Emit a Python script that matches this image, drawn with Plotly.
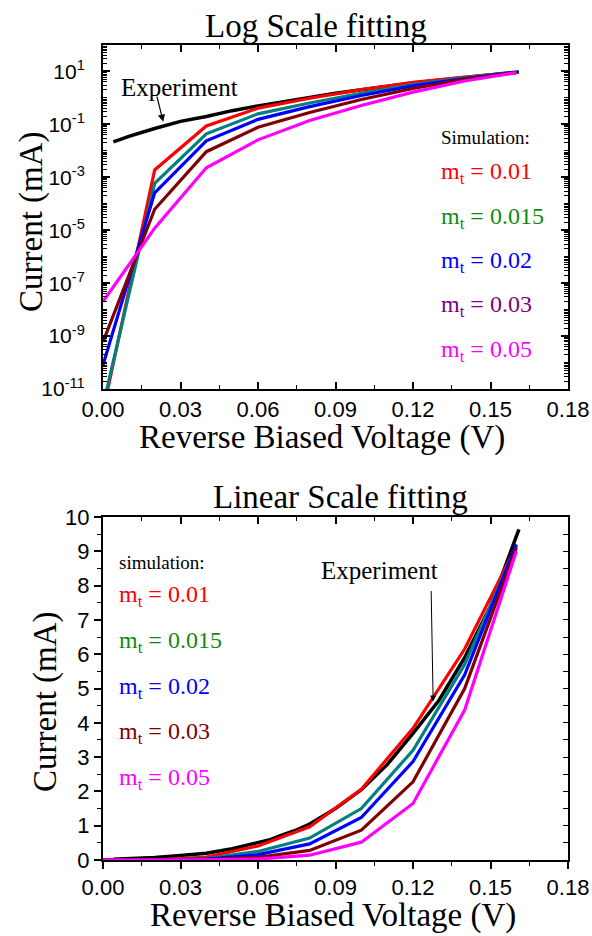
import plotly.graph_objects as go

# ---- data -------------------------------------------------------------
voltage_sim = [0.0, 0.02, 0.04, 0.06, 0.08, 0.10, 0.12, 0.14, 0.16]

current_mt_0p01 = [1.4e-12, 1.9e-3, 0.087, 0.41, 0.97, 2.06, 3.84, 6.15, 9.15]
current_mt_0p015 = [2.3e-12, 5.9e-4, 0.044, 0.25, 0.64, 1.50, 3.20, 5.70, 9.15]
current_mt_0p02 = [8.0e-11, 2.6e-4, 0.024, 0.155, 0.47, 1.24, 2.87, 5.40, 9.20]
current_mt_0p03 = [6.0e-10, 6.2e-5, 9.3e-3, 0.078, 0.28, 0.87, 2.28, 5.00, 9.10]
current_mt_0p05 = [2.0e-8, 1.2e-5, 2.3e-3, 0.026, 0.14, 0.52, 1.65, 4.37, 9.00]

voltage_exp = [0.004, 0.01, 0.02, 0.03, 0.04, 0.05, 0.06, 0.065, 0.07, 0.075,
               0.08, 0.09, 0.10, 0.11, 0.12, 0.13, 0.14, 0.15, 0.161]
current_exp = [0.022, 0.035, 0.07, 0.13, 0.20, 0.33, 0.50, 0.60, 0.75, 0.88,
               1.05, 1.50, 2.05, 2.78, 3.69, 4.65, 5.90, 7.40, 9.64]

mt_labels = ["0.01", "0.015", "0.02", "0.03", "0.05"]
x_ticks = [0.0, 0.03, 0.06, 0.09, 0.12, 0.15, 0.18]
log_tick_exponents = [-11, -9, -7, -5, -3, -1, 1]
lin_ticks = [0, 1, 2, 3, 4, 5, 6, 7, 8, 9, 10]

sim_currents = [current_mt_0p01, current_mt_0p015, current_mt_0p02,
                current_mt_0p03, current_mt_0p05]

# ---- styling ----------------------------------------------------------
W, H = 592, 936
line_colors = ["#ff0000", "#008080", "#0000ff", "#800000", "#ff00ff"]
text_colors_top = ["#ff0000", "#108a10", "#0000ff", "#800080", "#ff00ff"]
text_colors_bottom = ["#ff0000", "#108a10", "#0000ff", "#800000", "#ff00ff"]
SANS = "Liberation Sans"
SERIF = "Liberation Serif"


def fx(p):
    return p / W


def fy(p):
    return 1 - p / H


x_dom = [fx(103), fx(568)]
y_dom_top = [fy(389), fy(45)]
y_dom_bot = [fy(860), fy(517)]

fig = go.Figure()

# top panel: log scale
fig.add_trace(go.Scatter(x=voltage_exp, y=current_exp, mode="lines",
                         line=dict(color="black", width=3.5),
                         xaxis="x", yaxis="y", showlegend=False))
for cur, col in zip(sim_currents, line_colors):
    fig.add_trace(go.Scatter(x=voltage_sim, y=cur, mode="lines",
                             line=dict(color=col, width=3.2),
                             xaxis="x", yaxis="y", showlegend=False))

# bottom panel: linear scale
fig.add_trace(go.Scatter(x=voltage_exp, y=current_exp, mode="lines",
                         line=dict(color="black", width=3.5),
                         xaxis="x2", yaxis="y2", showlegend=False))
for cur, col in zip(sim_currents, line_colors):
    fig.add_trace(go.Scatter(x=voltage_sim, y=cur, mode="lines",
                             line=dict(color=col, width=3.2),
                             xaxis="x2", yaxis="y2", showlegend=False))

# empty traces registering the mirrored frame axes
fig.add_trace(go.Scatter(x=[None], y=[None], xaxis="x3", yaxis="y3",
                         showlegend=False, hoverinfo="skip"))
fig.add_trace(go.Scatter(x=[None], y=[None], xaxis="x4", yaxis="y4",
                         showlegend=False, hoverinfo="skip"))

log_minor = []
for e in range(-11, 2):
    for k in range(1, 10):
        if k == 1 and e % 2 != 0:
            continue
        log_minor.append(k * 10.0 ** e)

tick_font = dict(family=SANS, size=22, color="black")
common_x = dict(range=[0, 0.18], domain=x_dom, showgrid=False, zeroline=False,
                showline=True, linecolor="black", linewidth=2, automargin=False)

x_text = ["%.2f" % v for v in x_ticks]
log_vals = [10.0 ** e for e in log_tick_exponents]
log_text = ["10<sup>%d</sup>" % e for e in log_tick_exponents]

fig.update_layout(
    template="none",
    width=W, height=H,
    margin=dict(l=0, r=0, t=0, b=0, autoexpand=False),
    paper_bgcolor="white", plot_bgcolor="white",
    showlegend=False,
    xaxis=dict(**common_x, anchor="y", tickmode="array", tickvals=x_ticks,
               ticktext=x_text, ticks="inside", ticklen=7, tickwidth=1.5,
               tickcolor="black", tickfont=tick_font, ticklabelstandoff=0,
               minor=dict(ticks="inside", dtick=0.015, tick0=0, ticklen=4,
                          tickwidth=1.2, tickcolor="black")),
    yaxis=dict(type="log", range=[-11, 2], domain=y_dom_top, anchor="x",
               showgrid=False, zeroline=False, showline=True, linecolor="black",
               linewidth=2, automargin=False, tickmode="array", tickvals=log_vals,
               ticktext=log_text, ticks="inside", ticklen=7, tickwidth=1.5,
               tickcolor="black",
               tickfont=dict(family=SANS, size=21, color="black"),
               ticklabelstandoff=12,
               minor=dict(ticks="inside", tickmode="array", tickvals=log_minor,
                          ticklen=4, tickwidth=1.2, tickcolor="black")),
    xaxis3=dict(**common_x, overlaying="x", side="top",
                anchor="y3", tickmode="array", tickvals=x_ticks, ticks="inside",
                ticklen=7, tickwidth=1.5, tickcolor="black", showticklabels=False,
                minor=dict(ticks="inside", dtick=0.015, tick0=0, ticklen=4,
                           tickwidth=1.2, tickcolor="black")),
    yaxis3=dict(type="log", range=[-11, 2], domain=y_dom_top, overlaying="y",
                side="right", anchor="x3", showgrid=False, zeroline=False,
                showline=True, linecolor="black", linewidth=2, automargin=False,
                tickmode="array", tickvals=log_vals, ticks="inside", ticklen=7,
                tickwidth=1.5, tickcolor="black", showticklabels=False,
                minor=dict(ticks="inside", tickmode="array", tickvals=log_minor,
                           ticklen=4, tickwidth=1.2, tickcolor="black")),
    xaxis2=dict(**common_x, anchor="y2", tickmode="array", tickvals=x_ticks,
                ticktext=x_text, ticks="outside", ticklen=7, tickwidth=1.5,
                tickcolor="black", tickfont=tick_font,
                minor=dict(ticks="outside", dtick=0.015, tick0=0, ticklen=4,
                           tickwidth=1.2, tickcolor="black")),
    yaxis2=dict(range=[0, 10], domain=y_dom_bot, anchor="x2", showgrid=False,
                zeroline=False, showline=True, linecolor="black", linewidth=2,
                automargin=False, tickmode="array", tickvals=lin_ticks,
                ticks="outside", ticklen=7, tickwidth=1.5, tickcolor="black",
                tickfont=dict(family=SANS, size=22, color="black"),
                minor=dict(ticks="outside", dtick=0.5, tick0=0, ticklen=4,
                           tickwidth=1.2, tickcolor="black")),
    xaxis4=dict(**common_x, overlaying="x2", side="top",
                anchor="y4", tickmode="array", tickvals=x_ticks, ticks="inside",
                ticklen=7, tickwidth=1.5, tickcolor="black", showticklabels=False,
                minor=dict(ticks="inside", dtick=0.015, tick0=0, ticklen=4,
                           tickwidth=1.2, tickcolor="black")),
    yaxis4=dict(range=[0, 10], domain=y_dom_bot, overlaying="y2", side="right",
                anchor="x4", showgrid=False, zeroline=False, showline=True,
                linecolor="black", linewidth=2, automargin=False,
                tickmode="array", tickvals=lin_ticks, ticks="inside", ticklen=5,
                tickwidth=1.2, tickcolor="black", showticklabels=False,
                minor=dict(ticks="inside", dtick=0.5, tick0=0, ticklen=5,
                           tickwidth=1.2, tickcolor="black")),
)

ann = []


def text_at(px, py, txt, size, color="black", xanchor="center", angle=0,
            family=SERIF):
    ann.append(dict(xref="paper", yref="paper", x=fx(px), y=fy(py), text=txt,
                    showarrow=False, xanchor=xanchor, yanchor="middle",
                    textangle=angle,
                    font=dict(family=family, size=size, color=color)))


# titles and axis titles
text_at(316, 26, "Log Scale fitting", 33)
text_at(340, 497, "Linear Scale fitting", 33)
text_at(322, 437, "Reverse Biased Voltage (V)", 33)
text_at(333, 915, "Reverse Biased Voltage (V)", 33)
text_at(31, 222, "Current (mA)", 33, angle=-90)
text_at(45, 702, "Current (mA)", 33, angle=-90)

# top legend
text_at(439, 137, "Simulation:", 19, xanchor="left")
for i, (lab, col) in enumerate(zip(mt_labels, text_colors_top)):
    text_at(439, 173 + i * 44.5, "m<sub>t</sub> = " + lab, 24, color=col,
            xanchor="left")

# bottom legend
text_at(117, 562, "simulation:", 19, xanchor="left")
for i, (lab, col) in enumerate(zip(mt_labels, text_colors_bottom)):
    text_at(117, 596 + i * 45.8, "m<sub>t</sub> = " + lab, 24, color=col,
            xanchor="left")

# experiment labels with arrows
text_at(119, 87, "Experiment", 25, xanchor="left")
ann.append(dict(xref="x", yref="y", x=0.0233, y=-0.90, ax=-6.6, ay=-26.7,
                text="", showarrow=True, arrowhead=2, arrowsize=1.2,
                arrowwidth=1.2, arrowcolor="black"))
text_at(319, 570, "Experiment", 25, xanchor="left")
ann.append(dict(xref="x2", yref="y2", x=0.1278, y=4.62, ax=-2, ay=-112,
                text="", showarrow=True, arrowhead=2, arrowsize=1.2,
                arrowwidth=1, arrowcolor="black"))

fig.update_layout(annotations=ann)

fig.write_html("out.html")
